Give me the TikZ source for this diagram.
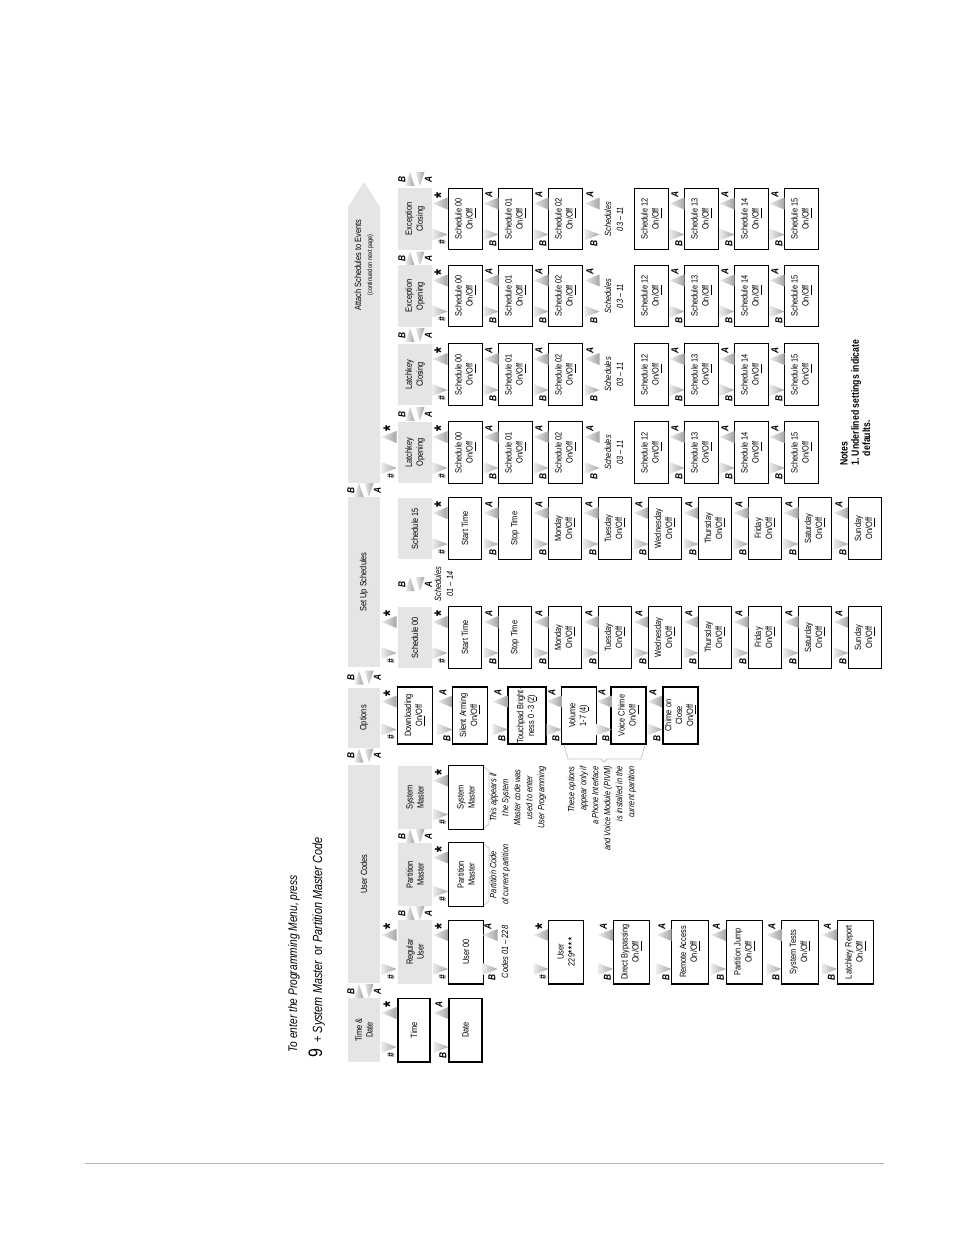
\documentclass[tikz,border=0pt]{standalone}
\usepackage{fontspec}
\setmainfont{Liberation Sans}[FakeStretch=0.82]
\usetikzlibrary{positioning}
\newcommand{\onoff}{On/\underline{Off}}
\begin{document}
\begin{tikzpicture}[x=0.6415pt,y=0.6415pt,
    txt/.style={inner sep=0pt, align=center, font=\fontsize{5.8}{7}\selectfont},
    box/.style={txt, draw, line width=0.7pt, minimum width=39.5pt, minimum height=21.3pt},
    ubox/.style={box, minimum width=41pt, minimum height=22pt},
    obox/.style={box, minimum width=36.6pt, minimum height=22.5pt},
    head/.style={txt, fill=gray!20, minimum width=39.5pt, minimum height=21.8pt},
    topbar/.style={txt, fill=gray!20, minimum height=20.5pt},
    note/.style={txt, font=\fontsize{5.8}{7.7}\selectfont\itshape},
    keylbl/.style={inner sep=0pt, font=\fontsize{6.5}{6.5}\selectfont\bfseries\itshape},
    starlbl/.style={inner sep=0pt, font=\fontsize{12}{12}\selectfont\bfseries},
    brk/.style={draw=gray!45, line width=0.5pt},
    keyshade/.style={left color=gray!15, right color=gray!70},
    pics/dnkey/.style={code={
      \shade[keyshade] (-6,7.5) -- (6,7.5) -- (0,-7.5) -- cycle;
      \node[keylbl, anchor=east] at (-5.5,-2) {#1};}},
    pics/upkey/.style={code={
      \shade[keyshade] (-6,-7.5) -- (6,-7.5) -- (0,7.5) -- cycle;
      \node[keylbl, anchor=west] at (5.5,2) {#1};}},
    pics/starkey/.style={code={
      \shade[keyshade] (-6,-7.5) -- (6,-7.5) -- (0,7.5) -- cycle;
      \node[starlbl, anchor=west] at (5,-1) {*};}},
    pics/swapkey/.style={code={
      \node[keylbl] at (0,13) {B};
      \shade[keyshade] (-7,9.5) -- (-7,0.5) -- (7,5) -- cycle;
      \shade[keyshade] (7,-0.5) -- (7,-9.5) -- (-7,-5) -- cycle;
      \node[keylbl] at (0,-13.5) {A};}},
    pics/scrollpair/.style={code={
      \pic at (-#1,0) {dnkey=B};
      \pic at (#1,0) {upkey=A};}},
    pics/enterpair/.style={code={
      \pic at (-#1,0) {dnkey=\#};
      \pic at (#1,0) {starkey};}},
  ]
  \path[use as bounding box, fill=white] (0,0) rectangle (954,-1235);
  \draw[gray!60, line width=0.6pt] (85,-1163) -- (884,-1163);

  \begin{scope}[rotate=90, transform shape]
  % how to enter
  \node[anchor=base west, inner sep=0pt, font=\fontsize{8}{9}\selectfont\itshape] (enter) at (-1053,-297) {To enter the Programming Menu, press};
  \node[anchor=base west, inner sep=0pt, font=\fontsize{8.5}{9}\selectfont] (press) at (-1058,-322) {{\fontsize{12.5}{12}\selectfont 9}\hspace{2pt} +\hspace{2pt}\textit{System Master}\, or \textit{Partition Master Code}};

  % top bar
  \node[topbar, minimum width=41pt] (timedate) at (-1030,-364) {Time \&\\Date};
  \node[topbar, minimum width=139.8pt] (users) at (-874,-364) {User Codes};
  \node[topbar, minimum width=38.5pt] (options) at (-718,-364) {Options};
  \node[topbar, minimum width=109pt] (setup) at (-582,-364) {Set Up Schedules};
  \fill[gray!20] (-483,-348) -- (-207,-348) -- (-182,-364) -- (-207,-380) -- (-483,-380) -- cycle;
  \node[txt] (attach) at (-265,-364) {Attach Schedules to Events\\{\fontsize{4.3}{5.5}\selectfont(continued on next page)}};
  \foreach \x in {-991,-755.5,-677.5,-490}
    \pic at (\x,-364) {swapkey};
  \foreach \x in {-913,-836,-584,-414,-335,-258.5,-179}
    \pic at (\x,-415) {swapkey};

  % time and date
  \pic at (-1030,-389) {enterpair=17};
  \node[ubox, minimum height=20.5pt] (time) at (-1030,-414) {Time};
  \pic at (-1030,-441) {scrollpair=17};
  \node[ubox, minimum height=21.2pt] (date) at (-1030,-465.5) {Date};

  % user codes
  \pic at (-952,-389) {enterpair=17};
  \node[head, minimum width=41pt] (regular) at (-952,-415) {Regular\\User};
  \node[head, minimum width=41pt] (partition) at (-874.5,-415) {Partition\\Master};
  \node[head, minimum width=41pt] (system) at (-797.5,-415) {System\\Master};
  \foreach \x in {-952,-874.5,-797.5}
    \pic at (\x,-440.5) {enterpair=17};
  \node[ubox] (user00) at (-952,-466) {User 00};
  \node[ubox] (partbox) at (-874.5,-466) {Partition\\Master};
  \node[ubox] (sysbox) at (-797.5,-466) {System\\Master};
  \pic at (-952,-490) {scrollpair=17};
  \node[note] (codes) at (-952,-505) {Codes 01 -- 228};
  \pic at (-952,-541) {enterpair=17};
  \node[ubox] (user229) at (-952,-566) {User\\229\textbf{*\,*\,*\,*}};
  \foreach \t/\y [count=\i] in {Direct Bypassing/-631.5,Remote Access/-690,Partition Jump/-744.5,System Tests/-800,Latchkey Report/-855.5} {
    \node[ubox, minimum height=23.5pt] (uopt\i) at (-952,\y) {\t\\\onoff};
    \pic at (-952,\y+26) {scrollpair=17};
  }
  \draw[brk] (-905,-484) -- (-901,-489) -- (-878,-489) -- (-875,-492) -- (-872,-489) -- (-848,-489) -- (-844,-484);
  \draw[brk] (-828,-484) -- (-824,-489) -- (-800,-489) -- (-797,-492) -- (-794,-489) -- (-771,-489) -- (-767,-484);
  \node[note] (partnote) at (-874.5,-500) {Partition Code\\of current partition};
  \node[note] (sysnote) at (-797.5,-518) {This appears if\\the System\\Master code was\\used to enter\\User Programming};

  % options
  \pic at (-715.5,-389) {enterpair=14};
  \node[obox] (download) at (-715.5,-415) {Downloading\\\underline{On}/Off};
  \node[obox] (silent) at (-715.5,-470) {Silent Arming\\\onoff};
  \node[obox, minimum height=24.4pt] (bright) at (-715.5,-527) {Touchpad Bright-\\ness 0 -3 (\underline{2})};
  \node[obox] (volume) at (-715.5,-579) {Volume\\1-7 (\underline{4})};
  \node[obox] (chime) at (-715.5,-628.5) {Voice Chime\\\onoff};
  \node[obox] (chimeclose) at (-715.5,-680.5) {Chime on\\Close\\\onoff};
  \foreach \y in {-445,-500,-554,-604,-655}
    \pic at (-715.5,\y) {scrollpair=14};
  \draw[brk] (-745,-564) -- (-759,-568) -- (-759,-601) -- (-762,-604) -- (-759,-607) -- (-759,-641) -- (-745,-645);
  \node[note, anchor=east, align=right] (pivmnote) at (-766,-602) {These options\\appear only if\\a Phone Interface\\and Voice Module (PIVM)\\is installed in the\\current partition};

  % schedules and events: second row
  \pic at (-637.5,-389) {enterpair=15.5};
  \pic at (-452.5,-389) {enterpair=15.5};
  \foreach \c/\t [count=\i] in {-637.5/Schedule 00,-528.5/Schedule 15,-452.5/Latchkey\\Opening,-374.5/Latchkey\\Closing,-296/Exception\\Opening,-219/Exception\\Closing} {
    \node[head] (sub\i) at (\c,-415) {\t};
    \pic at (\c,-440) {enterpair=15.5};
  }
  \node[note] (between) at (-584,-444) {Schedules\\01 -- 14};

  % set up schedules
  \foreach \c/\n in {-637.5/a,-528.5/b} {
    \foreach \t [count=\k from 0] in {Start Time,Stop Time,Monday,Tuesday,Wednesday,Thursday,Friday,Saturday,Sunday} {
      \ifnum\k<2
        \node[box] (day\n\k) at (\c,-465-50*\k) {\t};
      \else
        \node[box] (day\n\k) at (\c,-465-50*\k) {\t\\\onoff};
      \fi
    }
    \foreach \k in {1,...,8}
      \pic at (\c,-441-50*\k) {scrollpair=15.5};
  }

  % attach schedules to events
  \foreach \c/\n in {-452.5/a,-374.5/b,-296/c,-219/d} {
    \foreach \s/\y in {00/-465.5,01/-515.5,02/-565.5,12/-651.5,13/-701.5,14/-751.5,15/-801.5}
      \node[box] (ev\n\s) at (\c,\y) {Schedule \s\\\onoff};
    \foreach \y in {-491,-541,-592,-677,-727,-777}
      \pic at (\c,\y) {scrollpair=15.5};
    \node[note] (rest\n) at (\c,-614) {Schedules\\03 -- 11};
  }

  \node[anchor=north west, align=left, inner sep=0pt, font=\fontsize{6.8}{7.2}\selectfont\bfseries] (notes) at (-466,-840) {Notes\\1.\ Underlined settings indicate\\\hphantom{1.\ }defaults.};
  \end{scope}
\end{tikzpicture}
\end{document}
